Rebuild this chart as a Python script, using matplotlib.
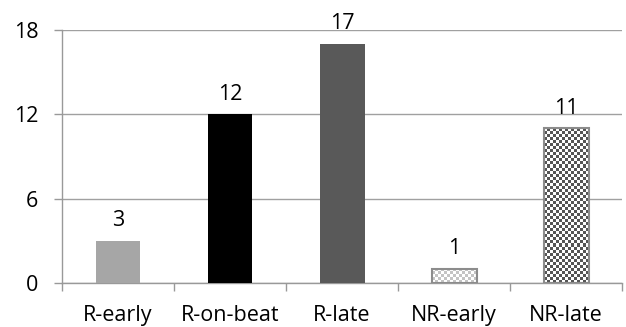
import numpy as np
import matplotlib.pyplot as plt
from matplotlib.colors import ListedColormap

categories = ['R-early', 'R-on-beat', 'R-late', 'NR-early', 'NR-late']
counts = [3, 12, 17, 1, 11]
yticks = [0, 6, 12, 18]

plt.rcParams['font.family'] = ['Open Sans', 'DejaVu Sans']
fs = 15.5

fig = plt.figure(figsize=(6.26, 3.27), dpi=100)
ax = fig.add_axes([0.099, 0.135, 0.895, 0.773])

x = np.arange(len(categories))
fills = ['#a6a6a6', '#000000', '#595959', 'none', 'none']
bars = ax.bar(x, counts, width=0.4, color=fills, zorder=3)

ax.set_xlim(-0.5, len(categories) - 0.5)
ax.set_ylim(0, 18)

# checkered fill for the NR bars, clipped to each bar rectangle
checker_colors = {3: ('#ffffff', '#c4c4c4'), 4: ('#ffffff', '#555555')}
for i, (light, dark) in checker_colors.items():
    b = bars[i]
    b.set_edgecolor('#8c8c8c')
    b.set_linewidth(1.5)
    x0, w, h = b.get_x(), b.get_width(), b.get_height()
    p0 = ax.transData.transform((x0, 0))
    p1 = ax.transData.transform((x0 + w, h))
    nx = max(2, int(round((p1[0] - p0[0]) / 3)))
    ny = max(2, int(round((p1[1] - p0[1]) / 3)))
    grid = np.add.outer(np.arange(ny), np.arange(nx)) % 2
    im = ax.imshow(grid, cmap=ListedColormap([light, dark]), extent=(x0, x0 + w, 0, h),
                   aspect='auto', interpolation='none', zorder=2)
    im.set_clip_path(b)

for xi, v in zip(x, counts):
    ax.annotate(str(v), (xi, v), xytext=(0, 7), textcoords='offset points',
                ha='center', va='bottom', fontsize=fs)

ax.set_yticks(yticks)
ax.set_xticks(x)
ax.set_xticklabels(categories, fontsize=fs)
ax.set_xticks(np.arange(len(categories) + 1) - 0.5, minor=True)
ax.tick_params(axis='x', which='major', length=0, pad=16)
ax.tick_params(axis='x', which='minor', length=6, color='#999999', width=1)
ax.tick_params(axis='y', labelsize=fs, length=6, color='#999999', width=1, pad=11)

ax.grid(axis='y', color='#a0a0a0', linewidth=1, zorder=0)
ax.set_axisbelow(True)
for s in ['top', 'right']:
    ax.spines[s].set_visible(False)
for s in ['left', 'bottom']:
    ax.spines[s].set_color('#999999')
    ax.spines[s].set_linewidth(1)

fig.savefig('out.png', dpi=100)
